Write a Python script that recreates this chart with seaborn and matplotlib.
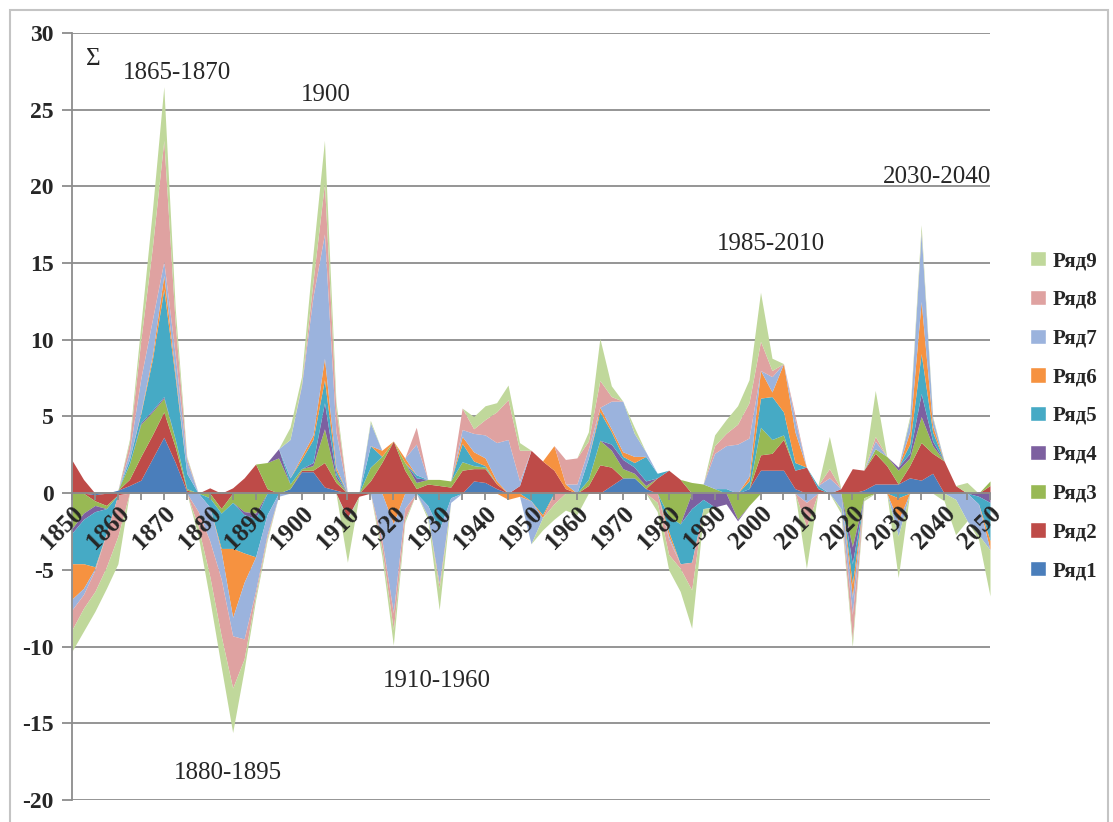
import numpy as np
import matplotlib
matplotlib.use("Agg")
import matplotlib.pyplot as plt
from matplotlib.patches import Patch, Rectangle
import seaborn as sns

# x categories: every 2.5 years
years = np.arange(1850, 2052.5, 2.5)
names = ["Ряд1", "Ряд2", "Ряд3", "Ряд4", "Ряд5", "Ряд6", "Ряд7", "Ряд8", "Ряд9"]

s1 = [0, 0, -0.1, 0, 0.2, 0.5, 0.85, 2.25, 3.65, 2.0,
      0.1, 0, 0, 0, 0, 0, 0, 0, 0, 0.3,
      1.4, 1.4, 0.4, 0.2, 0, 0, 0, 0, 0, 0,
      0, 0, 0, 0, 0, 0.8, 0.7, 0.3, 0, 0,
      0, 0, 0, 0, 0, 0, 0, 0.5, 1.0, 1.0,
      0.3, 0, 0, 0, 0, 0, 0, 0, 0, 0.3,
      1.5, 1.5, 1.5, 0.3, 0, 0, 0, 0, 0, 0.2,
      0.6, 0.6, 0.6, 1.0, 0.85, 1.3, 0, 0, 0, 0,
      0]
s2 = [2.15, 0.9, -0.4, -0.8, -0.1, 0.4, 1.55, 1.55, 1.65, 1.0,
      0.1, 0, 0.35, -1.0, 0.35, 1.0, 1.9, 0.3, 0, 0,
      0.1, 0.1, 1.6, 0.5, -1.6, -0.2, 0.8, 2.0, 3.4, 1.5,
      0.3, 0.6, 0.5, 0.4, 1.5, 0.8, 0.9, 0.3, 0, 0.5,
      2.8, 2.1, 1.5, 0.3, 0, 0.5, 1.85, 1.2, 0, 0,
      0, 1.0, 1.5, 0.9, 0, 0, 0, 0, 0, 0,
      1.0, 1.1, 2.0, 1.2, 1.7, 0.3, 0, 0.3, 1.6, 1.3,
      2.0, 1.2, 0, 0.8, 2.45, 1.3, 2.1, 0.5, 0, 0,
      0.5]
s3 = [-2.3, -1.3, -0.3, -0.2, 0, 1.0, 2.1, 1.5, 0.9, 0.5,
      0.1, 0, -0.3, -0.3, -0.6, -1.2, -1.3, 1.7, 2.3, 0.3,
      0.1, 0.3, 2.2, 0.3, 0, 0, 0.9, 0.4, 0, 0.5,
      0.4, 0.3, 0.4, 0.4, 0.55, 0.2, 0.1, 0, 0, 0,
      0, 0, 0, 0, 0, 0.4, 1.6, 1.1, 0.6, 0.3,
      0.2, 0, -1.5, -2.0, 0.7, 0.6, 0.3, 0, -1.7, -0.8,
      1.8, 0.9, 0.3, 0, 0, 0, 0, 0, -3.5, -0.3,
      0.3, 0.6, 0.9, 0.5, 1.7, 0.5, 0, 0, 0, 0,
      0.3]
s4 = [-0.3, -0.4, -0.4, 0, 0, 0, 0.1, 0.1, 0.1, 0,
      0, 0, 0, 0, 0, -0.2, -0.35, 0, 0.6, 0,
      0, 0.2, 1.7, 0.2, 0, 0, 0, 0, 0, 0,
      0.3, 0, 0, 0, 0, 0, 0, 0, 0, 0,
      0, 0, 0, 0, 0, 0, 0, 0.4, 0.6, 0.4,
      0.3, 0, 0, 0, -1.0, -0.4, -0.9, -0.7, -0.1, 0,
      0, 0, 0, 0, 0, 0, 0, 0, -1.1, 0,
      0, 0, 0.2, 0.3, 1.5, 0.3, 0, 0, 0, -0.2,
      -0.6]
s5 = [-2.0, -2.9, -3.6, -1.6, 0, 0.3, 0.6, 3.3, 7.0, 4.0,
      1.0, 0, -0.6, -2.3, -3.0, -2.5, -2.5, -1.4, 0, 0.4,
      0.6, 1.5, 1.5, 0.3, 0, 0, 1.4, 0, 0, 0,
      0.2, -0.8, -2.4, -0.3, 1.2, 0.3, 0.1, 0, 0, 0,
      -0.5, -1.4, 0, 0, 0, 1.4, 1.85, 0.8, 0.2, 0.3,
      1.6, 0.3, -1.0, -2.6, -3.5, -0.6, 0, 0.3, 0, 0.5,
      1.9, 2.8, 1.5, 0.5, 0, 0.2, 0, 0, -1.3, 0,
      0, 0, -0.3, 0.6, 2.6, 0.6, 0, 0, 0, -0.5,
      -2.5]
s6 = [-2.3, -1.6, -0.1, 0, 0, 0, 0.1, 0.3, 0.9, 0.3,
      0, 0, 0, -0.2, -4.5, -1.9, 0, 0, 0, 0,
      0.2, 0.3, 1.4, 0.2, 0, 0, 0, 0.4, -2.0, 0.3,
      0, 0, 0, 0, 0.45, 0.6, 0.5, 0.2, -0.4, -0.2,
      0, -0.2, 1.6, 0.3, 0, 0, 0.3, 0.2, 0.3, 0.4,
      0, 0, -0.3, 0, 0, 0, 0, 0, 0, 0.3,
      1.8, 0.3, 3.15, 2.0, 0, 0, 0, 0, -0.9, 0,
      0, 0, -1.5, 0.8, 3.4, 0.4, 0, 0, 0, 0,
      -0.6]
s7 = [-0.7, -0.4, -0.1, 0, 0, 0.5, 2.2, 2.3, 0.9, 1.2,
      0.8, -1.2, -2.2, -1.8, -1.2, -3.7, -2.2, -1.3, -0.2, 2.5,
      4.6, 9.0, 8.1, 2.3, -0.1, 0, 1.5, -3.0, -5.8, -1.0,
      2.0, -0.7, -3.5, -0.3, 0.45, 1.2, 1.5, 2.5, 3.5, 0.3,
      -2.8, 0, 0, 0, 0.6, 0.6, 0, 1.8, 3.3, 1.5,
      0.3, 0, -0.2, 0, 0, 0, 2.3, 2.8, 3.2, 2.5,
      0, 1.0, 0, 0.8, -0.6, 0, 1.0, -1.0, -1.1, 0,
      0.5, 0, -1.0, 0.8, 4.5, 0.5, 0, -0.4, -1.8, -2.0,
      0]
s8 = [-1.3, -0.9, -1.4, -2.2, -2.7, 0.6, 2.5, 4.7, 7.9, 2.0,
      0.2, -1.0, -2.3, -3.7, -3.4, -1.3, -0.3, -0.2, 0, 0,
      0.1, 1.0, 3.3, 1.5, 0, 0, 0, -0.6, -1.1, -0.7,
      1.1, 0, -0.3, 0, 1.4, 0.3, 1.0, 2.0, 2.6, 2.0,
      0, 0, -0.7, 1.6, 1.7, 0.5, 1.75, 0.3, 0, 0,
      0, -0.6, -1.0, -0.3, -1.8, 0, 0.5, 0.8, 1.3, 2.3,
      1.9, 0.4, 0, 0.3, -1.6, 0, 0.6, 0, -1.7, 0,
      0.3, 0, 0, 0, 0.1, 0, 0, 0, 0, 0,
      0]
s9 = [-1.4, -1.5, -1.3, -1.4, -1.8, 0.2, 1.0, 2.4, 3.5, 1.0,
      0.1, -0.6, -1.5, -2.0, -2.9, -0.7, -0.3, -0.2, 0, 0.8,
      0.5, 1.8, 2.8, 0.5, -2.8, 0, 0.15, -0.5, -1.0, -0.2,
      0, -0.2, -1.4, 0, 0, 0.8, 0.9, 0.6, 0.95, 0.5,
      0, -0.8, -1.0, -1.1, -1.4, 0.6, 2.75, 0.7, 0, 0.4,
      0, -0.6, -1.0, -1.5, -2.5, -0.5, 0.7, 0.9, 1.2, 1.5,
      3.2, 0.8, 0, 0, -2.7, 0, 2.1, -0.3, -0.4, -0.2,
      3.0, 0, -2.7, 0.2, 0.4, 0.1, -0.5, -2.3, 0.7, -0.3,
      -3.0]

colors = ["#4a7ebb", "#be4b48", "#98b954", "#7d60a0", "#46aac5",
          "#f69240", "#9bb3dd", "#dfa2a1", "#c0d89b"]

sns.set_theme(style="white")
plt.rcParams["font.family"] = ["Liberation Serif", "DejaVu Serif"]

W, H = 1113, 822
fig = plt.figure(figsize=(W / 100, H / 100), dpi=100)
ax = fig.add_axes([72 / W, 22 / H, 918 / W, 767 / H])

vals = np.array([s1, s2, s3, s4, s5, s6, s7, s8, s9], dtype=float)
# positive parts stack upwards, negative parts stack downwards
ax.stackplot(years, np.clip(vals, 0, None), colors=colors, lw=0, zorder=1)
ax.stackplot(years, np.clip(vals, None, 0), colors=colors, lw=0, zorder=1)

grid_col = "#8c8c8c"
for v in range(-20, 31, 5):
    ax.axhline(v, color=grid_col, lw=1.3, zorder=0.5)

ax.set_xlim(1850, 2050)
ax.set_ylim(-20, 30)
ax.set_axisbelow(False)

for sp in ["top", "right"]:
    ax.spines[sp].set_visible(False)
ax.spines["bottom"].set_position(("data", 0))
for sp in ["bottom", "left"]:
    ax.spines[sp].set_color(grid_col)
    ax.spines[sp].set_linewidth(1.3)

ax.set_yticks(range(-20, 31, 5))
ax.set_yticklabels([str(v) for v in range(-20, 31, 5)], fontweight="bold", fontsize=17)
ax.set_xticks(range(1850, 2051, 10))
ax.set_xticks(range(1855, 2050, 10), minor=True)
ax.set_xticklabels([str(v) for v in range(1850, 2051, 10)], rotation=45, ha="right",
                   va="top", rotation_mode="anchor", fontweight="bold", fontsize=18)
ax.tick_params(axis="y", left=True, length=7, width=1.3, color=grid_col, pad=6)
ax.tick_params(axis="x", which="both", bottom=True, length=5, width=1.3,
               color=grid_col, pad=1, direction="out")

handles = [Patch(facecolor=colors[i], label=names[i]) for i in range(8, -1, -1)]
ax.legend(handles=handles, loc="upper left", bbox_to_anchor=(1030 / W, 1 - 251 / H),
          bbox_transform=fig.transFigure, frameon=False,
          prop={"family": ["Liberation Serif", "DejaVu Serif"], "weight": "bold", "size": 15},
          handlelength=0.75, handleheight=0.75,
          handletextpad=0.35, labelspacing=0.9, borderaxespad=0, borderpad=0)

notes = [("Σ", 93, 59), ("1865-1870", 177, 73), ("1900", 326, 95),
         ("1880-1895", 228, 773), ("1910-1960", 437, 681),
         ("1985-2010", 771, 244), ("2030-2040", 937, 177)]
for txt, px, py in notes:
    fig.text(px / W, 1 - py / H, txt, ha="center", va="center", fontsize=18)

fig.add_artist(Rectangle((10 / W, -0.02), 1098 / W, 1 - 10 / H + 0.02,
                         transform=fig.transFigure, fill=False,
                         ec="#c4c4c4", lw=1.5))

fig.savefig("out.png", dpi=100)
